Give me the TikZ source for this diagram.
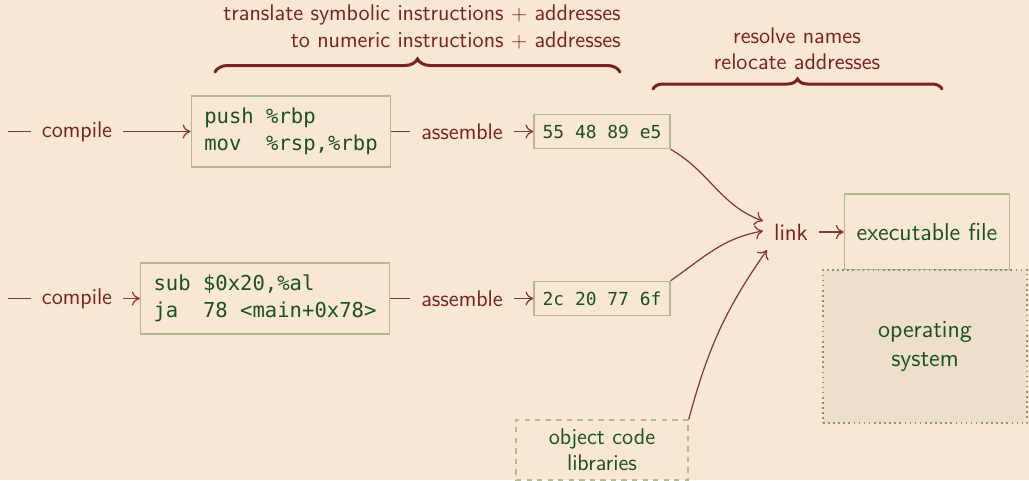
\documentclass[tikz,border=0pt]{standalone}
\usepackage{fontspec}
\setmonofont{DejaVu Sans Mono}
\usetikzlibrary{calc,arrows.meta,decorations.pathreplacing}

\definecolor{paper}{RGB}{247,231,211}
\definecolor{osfill}{RGB}{237,223,201}
\definecolor{rust}{RGB}{122,34,34}
\definecolor{wire}{RGB}{135,55,55}
\definecolor{leaf}{RGB}{28,82,28}
\definecolor{olive}{RGB}{176,186,142}

\begin{document}
\begin{tikzpicture}[auto,
    >={Computer Modern Rightarrow[length=4.5pt,width=8pt]},
    every path/.style={wire,line width=0.7pt},
    stage/.style={text=rust,inner xsep=0.21cm,font=\sffamily\fontsize{12.9}{15}\selectfont},
    asmbox/.style={draw=olive,line width=0.9pt,text=leaf,align=left,inner xsep=0.26cm,
        minimum height=1.42cm,font=\ttfamily\fontsize{11.7}{15.4}\selectfont},
    hexbox/.style={draw=olive,line width=0.9pt,text=leaf,inner xsep=0.17cm,
        minimum height=0.68cm,font=\ttfamily\fontsize{10.2}{12}\selectfont},
    bigbox/.style={draw=olive,line width=0.9pt,text=leaf,align=center,
        font=\sffamily\fontsize{13.9}{16}\selectfont},
    bracket/.style={decorate,rust,line width=1.7pt,line cap=round}]
    \fill[paper] (0,0) rectangle (20.58,-9.6);
    \useasboundingbox (0,0) rectangle (20.58,-9.6);

    \begin{scope}[every node/.style={stage}]
        \node (c1) at (1.54,-2.63) {compile};
        \node (c2) at (1.54,-5.97) {compile};
        \node (a1) at (9.24,-2.63) {assemble};
        \node (a2) at (9.24,-5.97) {assemble};
        \node (link) at (15.82,-4.64) {\fontsize{13.4}{16}\selectfont link};
        \node[align=right] (transl) at (8.44,-0.54) {translate symbolic instructions $+$ addresses\\to numeric instructions $+$ addresses};
        \node[align=center] (reloc) at (15.94,-0.98) {resolve names\\relocate addresses};
    \end{scope}
    \coordinate (in1) at (0.16,-2.63);
    \coordinate (in2) at (0.16,-5.97);

    \node[asmbox] (asm1) at (5.82,-2.63) {push\ \%rbp\\mov\ \ \%rsp,\%rbp};
    \node[asmbox] (asm2) at (5.30,-5.97) {sub\ \$0x20,\%al\\ja\ \ 78\ <main+0x78>};
    \node[hexbox] (hex1) at (12.04,-2.63) {55 48 89 e5};
    \node[hexbox] (hex2) at (12.04,-5.97) {2c 20 77 6f};
    \node[bigbox,minimum width=3.3cm,minimum height=1.52cm] (exe) at (18.54,-4.64) {executable file};
    \node[bigbox,draw=olive!80!black,dotted,fill=osfill,minimum width=4.08cm,minimum height=3.06cm] (os) at (18.50,-6.93) {operating\\system};
    \node[bigbox,dashed,minimum width=3.44cm,minimum height=1.2cm,font=\sffamily\fontsize{12.9}{15}\selectfont] (libs) at (12.04,-9.0) {object code\\libraries};

    \draw (in1) -- (c1);
    \draw (c1) edge [->] (asm1);
    \draw (asm1) -- (a1);
    \draw (a1) edge [->] (hex1);
    \draw (in2) -- (c2);
    \draw (c2) edge [->] (asm2);
    \draw (asm2) -- (a2);
    \draw (a2) edge [->] (hex2);
    \draw[->] (hex1.south east) to[out=-30,in=160] ($(link.west)+(0,0.22)$);
    \draw[->] (hex2.north east) to[out=35,in=190] ($(link.west)+(0,0.02)$);
    \draw[->] (libs.north east) to[out=75,in=-125] ($(link.west)+(0.08,-0.36)$);
    \draw (link) edge [->] (exe);

    \draw[bracket,decoration={brace,amplitude=0.26cm}] (4.30,-1.44) -- (12.40,-1.44);
    \draw[bracket,decoration={brace,amplitude=0.2cm}] (13.06,-1.78) -- (18.84,-1.78);
\end{tikzpicture}
\end{document}
